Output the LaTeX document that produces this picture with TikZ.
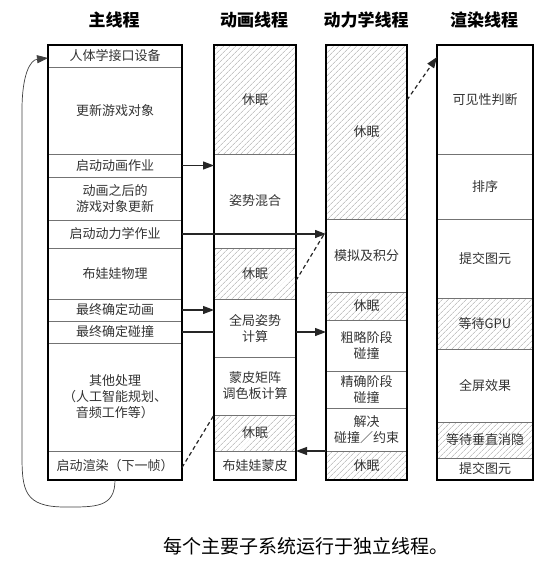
\documentclass[tikz,border=0pt]{standalone}
\usepackage{fontspec}
\setmainfont{Noto Sans CJK SC}
\usetikzlibrary{arrows.meta, patterns.meta}

\begin{document}
\begin{tikzpicture}[x=1pt, y=-1pt,
    cell/.style={draw=black!55, line width=0.6pt, inner sep=0pt, outer sep=0pt,
        align=center, text=black!80, font=\fontsize{13}{16}\selectfont},
    sleep/.style={cell, pattern={Lines[angle=45, distance=4pt, line width=0.5pt]},
        pattern color=black!35},
    maincol/.style={minimum width=134pt},
    animcol/.style={minimum width=82pt},
    dyncol/.style={minimum width=81pt},
    rendcol/.style={minimum width=96pt},
    head/.style={font=\fontsize{17}{20}\selectfont\bfseries},
    frame/.style={draw=black, line width=1.1pt},
    call/.style={draw=black!85, line width=1.2pt, -{Triangle[length=11pt, width=8pt]}},
    wake/.style={draw=black!85, line width=1.2pt, dash pattern=on 4pt off 3pt},
    loopback/.style={draw=black!75, line width=0.7pt, -{Triangle[length=11pt, width=8pt]}}]
    \useasboundingbox (0,0) rectangle (555,562);

    % Column titles
    \node[head] (hmain) at (114,20) {主线程};
    \node[head] (hanim) at (254,20) {动画线程};
    \node[head] (hdyn) at (366,20) {动力学线程};
    \node[head] (hrend) at (484,20) {渲染线程};

    % Main thread
    \node[cell, maincol, minimum height=22pt] (m1) at (115,56) {人体学接口设备};
    \node[cell, maincol, minimum height=87pt] (m2) at (115,110.5) {更新游戏对象};
    \node[cell, maincol, minimum height=23pt] (m3) at (115,165.5) {启动动画作业};
    \node[cell, maincol, minimum height=43pt] (m4) at (115,198.5) {动画之后的\\游戏对象更新};
    \node[cell, maincol, minimum height=28pt] (m5) at (115,234) {启动动力学作业};
    \node[cell, maincol, minimum height=51pt] (m6) at (115,273.5) {布娃娃物理};
    \node[cell, maincol, minimum height=22pt] (m7) at (115,310) {最终确定动画};
    \node[cell, maincol, minimum height=22pt] (m8) at (115,332) {最终确定碰撞};
    \node[cell, maincol, minimum height=108pt] (m9) at (115,397) {其他处理\\（人工智能规划、\\音频工作等）};
    \node[cell, maincol, minimum height=29pt] (m10) at (115,465.5) {启动渲染（下一帧）};

    % Animation thread
    \node[sleep, animcol, minimum height=109pt] (a1) at (255,99.5) {休眠};
    \node[cell, animcol, minimum height=94pt] (a2) at (255,201) {姿势混合};
    \node[sleep, animcol, minimum height=51pt] (a3) at (255,273.5) {休眠};
    \node[cell, animcol, minimum height=58pt] (a4) at (255,328) {全局姿势\\计算};
    \node[cell, animcol, minimum height=58pt] (a5) at (255,386) {蒙皮矩阵\\调色板计算};
    \node[sleep, animcol, minimum height=36pt] (a6) at (255,433) {休眠};
    \node[cell, animcol, minimum height=29pt] (a7) at (255,465.5) {布娃娃蒙皮};

    % Dynamics thread
    \node[sleep, dyncol, minimum height=174pt] (d1) at (366.5,132) {休眠};
    \node[cell, dyncol, minimum height=73pt] (d2) at (366.5,255.5) {模拟及积分};
    \node[sleep, dyncol, minimum height=28pt] (d3) at (366.5,306) {休眠};
    \node[cell, dyncol, minimum height=51pt] (d4) at (366.5,345.5) {粗略阶段\\碰撞};
    \node[cell, dyncol, minimum height=37pt] (d5) at (366.5,389.5) {精确阶段\\碰撞};
    \node[cell, dyncol, minimum height=43pt] (d6) at (366.5,429.5) {解决\\碰撞／约束};
    \node[sleep, dyncol, minimum height=29pt] (d7) at (366.5,465.5) {休眠};

    % Render thread
    \node[cell, rendcol, minimum height=109pt] (r1) at (485,99.5) {可见性判断};
    \node[cell, rendcol, minimum height=65pt] (r2) at (485,186.5) {排序};
    \node[cell, rendcol, minimum height=79pt] (r3) at (485,258.5) {提交图元};
    \node[sleep, rendcol, minimum height=51pt] (r4) at (485,323.5) {等待GPU};
    \node[cell, rendcol, minimum height=73pt] (r5) at (485,385.5) {全屏效果};
    \node[sleep, rendcol, minimum height=36pt] (r6) at (485,440) {等待垂直消隐};
    \node[cell, rendcol, minimum height=22pt] (r7) at (485,469) {提交图元};

    % Column outlines
    \draw[frame] (m1.north west) rectangle (m10.south east);
    \draw[frame] (a1.north west) rectangle (a7.south east);
    \draw[frame] (d1.north west) rectangle (d7.south east);
    \draw[frame] (r1.north west) rectangle (r7.south east);

    % Hand-offs between threads
    \draw[call] (m3.east) -- (a2.west |- m3.east);
    \draw[call] (m5.east) -- (d2.west |- m5.east);
    \draw[wake] ([yshift=-7pt]a3.east) -- ([yshift=-12pt]d2.north west);
    \draw[call] (m7.east) -- (a4.west |- m7.east);
    \draw[call, -] (m8.east) -- (a4.west |- m8.east);
    \draw[call] (a4.east |- m8.east) -- (d4.west |- m8.east);
    \draw[wake] ([yshift=-2pt]m10.east) -- (a6.north west);
    \draw[call] (d6.south west) -- (a7.north east);
    \draw[wake, -{Triangle[length=11pt, width=8pt]}] ([yshift=32pt]d1.east) -- ([yshift=-12pt]r1.north west);

    % Next frame
    \draw[loopback] (m10.south) .. controls (115,508) and (95,507) .. (65,507)
        .. controls (24,507) and (22,490) .. (22,455) -- (22,110)
        .. controls (22,75) and (30,60) .. ([yshift=-13pt]m1.north west);

    \node[font=\fontsize{19}{22}\selectfont] (cap) at (306,546) {每个主要子系统运行于独立线程。};
\end{tikzpicture}
\end{document}
